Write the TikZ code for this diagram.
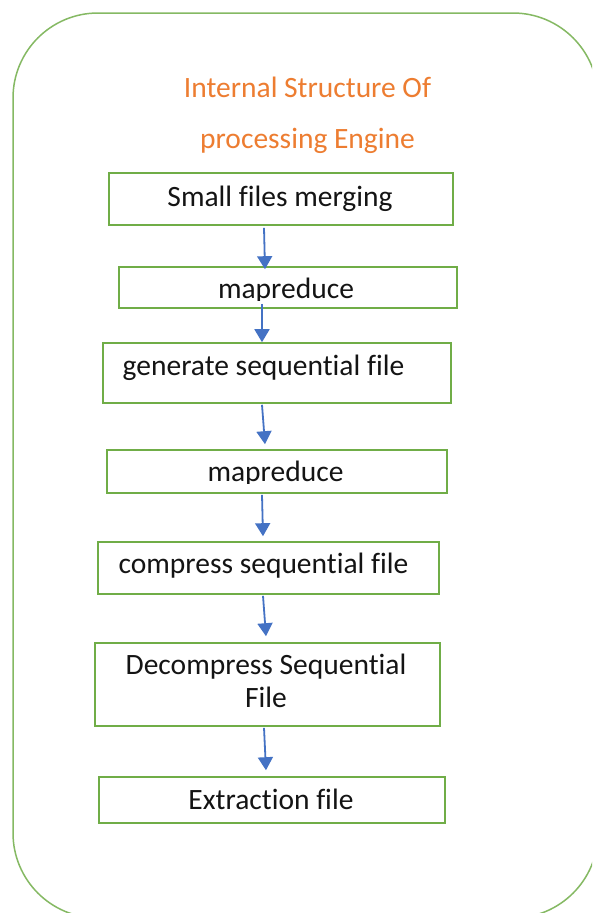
\documentclass[tikz,border=0pt]{standalone}
\usepackage{fontspec}
\setmainfont{Carlito}[Ligatures={TeX,NoCommon}]
\usetikzlibrary{arrows.meta,calc}
\definecolor{boxgreen}{HTML}{70AD47}
\definecolor{arrblue}{HTML}{4472C4}
\definecolor{titleorange}{HTML}{ED7D31}
\begin{document}
\begin{tikzpicture}[x=1pt,y=-1pt,
  stepbox/.style={draw=boxgreen, line width=1.6pt, inner sep=0pt},
  lbl/.style={inner sep=0pt, anchor=base, font=\fontsize{29.5}{33}\selectfont, text=black!92},
  ttl/.style={inner sep=0pt, anchor=base, font=\fontsize{29.5}{33}\selectfont, text=titleorange},
  arr/.style={draw=arrblue, line width=1.8pt, -{Triangle[length=13pt,width=15pt]}}]
\useasboundingbox (0,0) rectangle (592,913);
\fill[white] (0,0) rectangle (592,913);
\begin{scope}
  \clip (0,0) rectangle (592,913);
  \node[draw=boxgreen!85, line width=1.5pt, rounded corners=85pt, minimum width=585pt, minimum height=905pt, inner sep=0pt] (frame) at (305.5,465.5) {};
\end{scope}
% title
\node[ttl] (title1) at (307.5,97) {Internal Structure Of};
\node[ttl] (title2) at (307.5,148) {processing Engine};
% boxes
\node[stepbox, minimum width=344pt, minimum height=52pt] (b1) at (281,199) {};
\node[stepbox, minimum width=338pt, minimum height=41pt] (b2) at (288,287.5) {};
\node[stepbox, minimum width=348pt, minimum height=60pt] (b3) at (277,373) {};
\node[stepbox, minimum width=340pt, minimum height=43pt] (b4) at (277,471.5) {};
\node[stepbox, minimum width=341pt, minimum height=52pt] (b5) at (268.5,568) {};
\node[stepbox, minimum width=345pt, minimum height=83pt] (b6) at (267.5,684.5) {};
\node[stepbox, minimum width=346pt, minimum height=46pt] (b7) at (272,800) {};
% texts
\node[lbl] (t1) at (280,206) {Small files merging};
\begin{scope}
  \clip (b2.north west) rectangle (b2.east |- 0,300);
  \node[lbl] (t2) at (286,298) {mapreduce};
\end{scope}
\node[lbl] (t3) at (263.5,375) {generate sequential file};
\begin{scope}
  \clip (b4.north west) rectangle (b4.east |- 0,483);
  \node[lbl] (t4) at (275.5,481) {mapreduce};
\end{scope}
\node[lbl] (t5) at (263.5,573) {compress sequential file};
\node[lbl] (t6a) at (266,674) {Decompress Sequential};
\node[lbl] (t6b) at (266,707) {File};
\node[lbl] (t7) at (271,809) {Extraction file};
% arrows
\draw[arr] ([xshift=-17pt,yshift=-2pt]b1.south) -- ([xshift=-23pt,yshift=-3pt]b2.north);
\draw[arr] ([xshift=-26pt,yshift=5pt]b2.south) -- ([xshift=-15pt]b3.north);
\draw[arr] ([xshift=-15pt,yshift=-1pt]b3.south) -- ([xshift=-12pt,yshift=5pt]b4.north);
\draw[arr] ([xshift=-15pt,yshift=-1pt]b4.south) -- ([xshift=-5.5pt,yshift=5pt]b5.north);
\draw[arr] ([xshift=-5.5pt,yshift=-1pt]b5.south) -- ([xshift=-1.5pt,yshift=6pt]b6.north);
\draw[arr] ([xshift=-3.5pt,yshift=-1pt]b6.south) -- ([xshift=-6pt,yshift=6pt]b7.north);
\end{tikzpicture}
\end{document}
